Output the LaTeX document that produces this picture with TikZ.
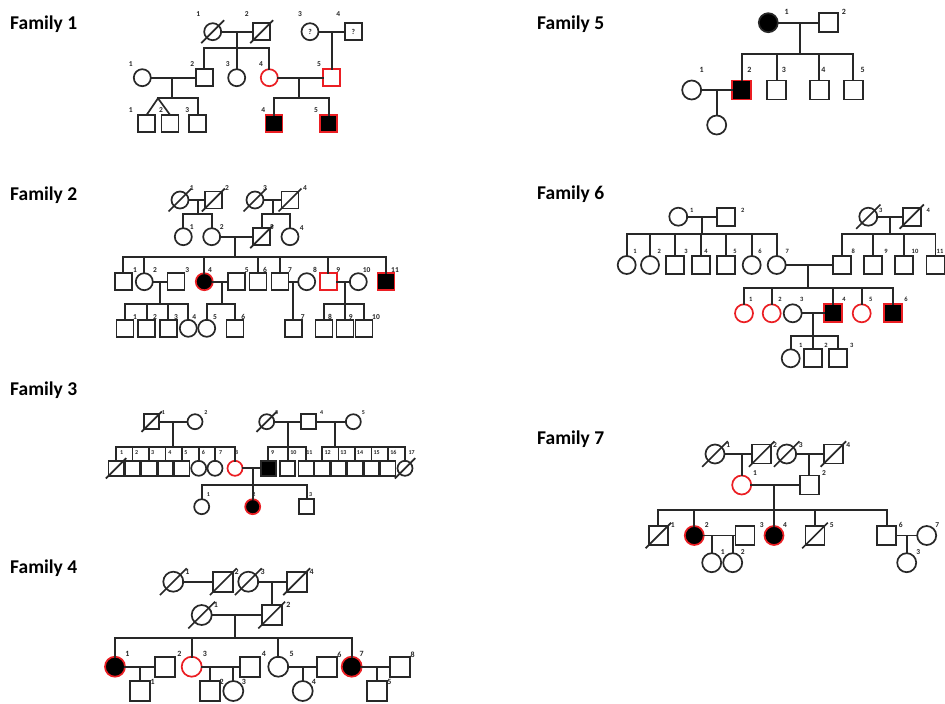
\documentclass[tikz,border=0pt]{standalone}
\usepackage{fontspec}
\setmainfont{Carlito}
\usetikzlibrary{calc}
\definecolor{carr}{RGB}{235,30,35}
\definecolor{ink}{RGB}{40,40,40}
\newcount\lbc
\def\ss{17}
\def\lfs{7}
\newcommand\lb[3]{\global\advance\lbc by 1\relax\node[lab] (lb\the\lbc) at (#1,#2) {#3};}
\newcommand\dcs[1]{\draw[ln] ([shift={(-0.64*\ss,0.64*\ss)}]#1.center) -- ([shift={(0.64*\ss,-0.64*\ss)}]#1.center);}
\newcommand\kid[2]{\draw[ln] (#2.north) -- (#2.north |- #1);}
\newcommand\sibl[3]{\draw[ln] (#2.north |- #1) -- (#3.north |- #1);}
\tikzset{
  ln/.style={draw=ink, line width=1.7pt, line cap=rect},
  sym/.style={draw=ink, line width=1.7pt, inner sep=0pt, outer sep=0pt, minimum size=\ss},
  sq/.style={sym, rectangle},
  ci/.style={sym, circle},
  car/.style={draw=carr},
  aff/.style={fill=black},
  lab/.style={text=ink, font=\fontsize{\lfs}{\lfs}\selectfont\bfseries, inner sep=0pt},
  ttl/.style={text=black, font=\fontsize{19.5}{20}\selectfont\bfseries, inner sep=0pt, anchor=base west}
}
\begin{document}
\begin{tikzpicture}[x=1pt,y=-1pt]
\fill[white] (0,0) rectangle (945,704);
\useasboundingbox (0,0) rectangle (945,704);

% ---------------- titles
\node[ttl] (t1) at (10,29) {Family 1};
\node[ttl] (t2) at (10,200) {Family 2};
\node[ttl] (t3) at (10,395) {Family 3};
\node[ttl] (t4) at (10,573) {Family 4};
\node[ttl] (t5) at (537,29) {Family 5};
\node[ttl] (t6) at (537,199) {Family 6};
\node[ttl] (t7) at (537,444) {Family 7};

% ================= Family 1
\def\ss{17}\def\lfs{7.5}
\node[ci] (f1a) at (212.7,31.7) {}; \dcs{f1a}
\node[sq] (f1b) at (261.7,31.7) {}; \dcs{f1b}
\node[ci,lab] (f1c) at (310,31.7) {?};
\node[sq,lab] (f1d) at (353.3,31.7) {?};
\node[ci] (f1e) at (142.3,77.7) {};
\node[sq] (f1f) at (204.3,77.7) {};
\node[ci] (f1g) at (236.7,77.7) {};
\node[ci,car] (f1h) at (269.3,77.7) {};
\node[sq,car] (f1i) at (331.7,77.7) {};
\node[sq] (f1j) at (146.7,123.3) {};
\node[sq] (f1k) at (170,123.3) {};
\node[sq] (f1l) at (197.7,123.3) {};
\node[sq,car,aff] (f1m) at (274,123.3) {};
\node[sq,car,aff] (f1n) at (328.7,123.3) {};
\draw[ln] (f1a) -- (f1b);
\coordinate (f1p) at (236.7,31.7); \coordinate (f1q) at (236.7,47.7);
\draw[ln] (f1p) -- (f1q);
\sibl{f1q}{f1f}{f1h} \kid{f1q}{f1f} \kid{f1q}{f1g} \kid{f1q}{f1h}
\draw[ln] (f1c) -- (f1d);
\coordinate (f1r) at (331.7,31.7); \draw[ln] (f1r) -- (f1i.north);
\draw[ln] (f1e) -- (f1f);
\coordinate (f1s) at (172.3,77.7); \coordinate (f1t) at (172.3,98.3); \draw[ln] (f1s) -- (f1t);
\coordinate (f1tw) at (158,98.3);
\draw[ln] (f1tw) -- (f1l.north |- f1tw); \kid{f1tw}{f1l}
\draw[ln] (f1tw) -- (f1j.north); \draw[ln] (f1tw) -- (f1k.north);
\draw[ln] (f1h) -- (f1i);
\coordinate (f1u) at (299.3,77.7); \coordinate (f1v) at (299.3,98.3); \draw[ln] (f1u) -- (f1v);
\sibl{f1v}{f1m}{f1n} \kid{f1v}{f1m} \kid{f1v}{f1n}
\lb{198.3}{14}{1}\lb{246.7}{14}{2}\lb{300}{14}{3}\lb{338.3}{14}{4}
\lb{130.7}{64}{1}\lb{192.3}{64}{2}\lb{227.7}{64}{3}\lb{261}{64}{4}\lb{319}{64}{5}
\lb{130.7}{110}{1}\lb{161}{110}{2}\lb{187.3}{110}{3}\lb{263.3}{110}{4}\lb{316}{110}{5}

% ================= Family 2
\def\ss{17}\def\lfs{7.5}
\node[ci] (g1) at (180,200) {}; \dcs{g1}
\node[sq] (g2) at (213.3,200) {}; \dcs{g2}
\node[ci] (g3) at (255,200) {}; \dcs{g3}
\node[sq] (g4) at (290,200) {}; \dcs{g4}
\node[ci] (h1) at (183.3,236.7) {};
\node[ci] (h2) at (211.7,236.7) {};
\node[sq] (h3) at (261.7,236.7) {}; \dcs{h3}
\node[ci] (h4) at (290,236.7) {};
\draw[ln] (g1) -- (g2);
\coordinate (f2a) at (198.3,200); \coordinate (f2b) at (198.3,214.3); \draw[ln] (f2a) -- (f2b);
\sibl{f2b}{h1}{h2} \kid{f2b}{h1} \kid{f2b}{h2}
\draw[ln] (g3) -- (g4);
\coordinate (f2c) at (273.3,200); \coordinate (f2d) at (273.3,214.3); \draw[ln] (f2c) -- (f2d);
\sibl{f2d}{h3}{h4} \kid{f2d}{h3} \kid{f2d}{h4}
\node[sq] (i1) at (123.3,281.7) {};
\node[ci] (i2) at (144.3,281.7) {};
\node[sq] (i3) at (176,281.7) {};
\node[ci,car,aff] (i4) at (204.3,281.7) {};
\node[sq] (i5) at (236.7,281.7) {};
\node[sq] (i6) at (258,281.7) {};
\node[sq] (i7) at (280,281.7) {};
\node[ci] (i8) at (306.7,281.7) {};
\node[sq,car] (i9) at (328.3,281.7) {};
\node[ci] (i10) at (358.3,281.7) {};
\node[sq,car,aff] (i11) at (386,281.7) {};
\draw[ln] (h2) -- (h3);
\coordinate (f2e) at (235,236.7); \coordinate (f2f) at (235,256.7); \draw[ln] (f2e) -- (f2f);
\sibl{f2f}{i1}{i11}
\foreach \n in {i1,i2,i4,i6,i7,i9,i11} {\kid{f2f}{\n}}
\node[sq] (j1) at (125,328.3) {};
\node[sq] (j2) at (146.7,328.3) {};
\node[sq] (j3) at (168.3,328.3) {};
\node[ci] (j4) at (188.3,328.3) {};
\node[ci] (j5) at (206.7,328.3) {};
\node[sq] (j6) at (235,328.3) {};
\node[sq] (j7) at (293.3,328.3) {};
\node[sq] (j8) at (324,328.3) {};
\node[sq] (j9) at (345,328.3) {};
\node[sq] (j10) at (364,328.3) {};
\draw[ln] (i2) -- (i3);
\coordinate (f2g) at (160,281.7); \coordinate (f2h) at (160,304); \draw[ln] (f2g) -- (f2h);
\sibl{f2h}{j1}{j4} \foreach \n in {j1,j2,j3,j4} {\kid{f2h}{\n}}
\draw[ln] (i4) -- (i5);
\coordinate (f2i) at (221.7,281.7); \coordinate (f2j) at (221.7,304); \draw[ln] (f2i) -- (f2j);
\sibl{f2j}{j5}{j6} \kid{f2j}{j5} \kid{f2j}{j6}
\draw[ln] (i7) -- (i8);
\coordinate (f2m) at (293.3,281.7); \draw[ln] (f2m) -- (j7.north);
\draw[ln] (i9) -- (i10);
\coordinate (f2k) at (345,281.7); \coordinate (f2l) at (345,304); \draw[ln] (f2k) -- (f2l);
\sibl{f2l}{j8}{j10} \foreach \n in {j8,j9,j10} {\kid{f2l}{\n}}
\lb{191.7}{188.3}{1}\lb{227}{188.3}{2}\lb{265}{188.3}{3}\lb{305}{188.3}{4}
\lb{191.7}{226.7}{1}\lb{221.7}{226.7}{2}\lb{271.7}{226.7}{3}\lb{301.7}{228.3}{4}
\lb{135}{270}{1}\lb{155}{270}{2}\lb{187.3}{270}{3}\lb{210}{270}{4}\lb{246.7}{270}{5}\lb{265}{270}{6}
\lb{290}{270}{7}\lb{315}{270}{8}\lb{338.3}{270}{9}\lb{366.7}{270}{10}\lb{395}{270}{11}
\lb{135}{316.7}{1}\lb{155}{316.7}{2}\lb{176}{316.7}{3}\lb{194.3}{316.7}{4}\lb{215}{316.7}{5}
\lb{243.3}{316.7}{6}\lb{302.7}{316.7}{7}\lb{330}{316.7}{8}\lb{350.7}{316.7}{9}\lb{376}{316.7}{10}

% ================= Family 3
\def\ss{15}\def\lfs{6}
\node[sq] (k1) at (151.7,421.7) {}; \dcs{k1}
\node[ci] (k2) at (195,421.7) {};
\node[ci] (k3) at (266.7,421.7) {}; \dcs{k3}
\node[sq] (k4) at (308.3,421.7) {};
\node[ci] (k5) at (353.3,421.7) {};
\node[sq] (l1) at (116,468.3) {}; \dcs{l1}
\node[sq] (l2) at (132.5,468.3) {};
\node[sq] (l3) at (149,468.3) {};
\node[sq] (l4) at (165.5,468.3) {};
\node[sq] (l5) at (182,468.3) {};
\node[ci] (l6) at (198.7,468.3) {};
\node[ci] (l7) at (215,468.3) {};
\node[ci,car] (l8) at (235,468.3) {};
\node[sq,aff] (l9) at (268.3,468.3) {};
\node[sq] (l10) at (287.7,468.3) {};
\node[sq] (l11) at (306,468.3) {};
\node[sq] (l12) at (322,468.3) {};
\node[sq] (l13) at (338.5,468.3) {};
\node[sq] (l14) at (355,468.3) {};
\node[sq] (l15) at (371.5,468.3) {};
\node[sq] (l16) at (388,468.3) {};
\node[ci] (l17) at (405,468.3) {}; \dcs{l17}
\draw[ln] (k1) -- (k2);
\coordinate (f3a) at (172.7,421.7); \coordinate (f3b) at (172.7,446.7); \draw[ln] (f3a) -- (f3b);
\sibl{f3b}{l1}{l8} \foreach \n in {l1,l2,l3,l4,l5,l6,l7,l8} {\kid{f3b}{\n}}
\draw[ln] (k3) -- (k4);
\coordinate (f3c) at (287.7,421.7); \coordinate (f3d) at (287.7,446.7); \draw[ln] (f3c) -- (f3d);
\sibl{f3d}{l9}{l11} \foreach \n in {l9,l10,l11} {\kid{f3d}{\n}}
\draw[ln] (k4) -- (k5);
\coordinate (f3e) at (335,421.7); \coordinate (f3f) at (335,446.7); \draw[ln] (f3e) -- (f3f);
\sibl{f3f}{l12}{l17} \foreach \n in {l12,l13,l14,l15,l16,l17} {\kid{f3f}{\n}}
\node[ci] (m1) at (201.7,506.7) {};
\node[ci,car,aff] (m2) at (252.7,506.7) {};
\node[sq] (m3) at (306.7,506.7) {};
\draw[ln] (l8) -- (l9);
\coordinate (f3g) at (252.7,468.3); \coordinate (f3h) at (252.7,485); \draw[ln] (f3g) -- (f3h);
\sibl{f3h}{m1}{m3} \foreach \n in {m1,m2,m3} {\kid{f3h}{\n}}
\lb{163.3}{412.3}{1}\lb{206}{412.3}{2}\lb{276.7}{412.3}{3}\lb{321.7}{412.3}{4}\lb{363.3}{412.3}{5}
\lb{121.7}{452.7}{1}\lb{136.7}{452.7}{2}\lb{152.7}{452.7}{3}\lb{170}{452.7}{4}\lb{186}{452.7}{5}
\lb{203.3}{452.7}{6}\lb{220.7}{452.7}{7}\lb{236.7}{452.7}{8}\lb{272.7}{452.7}{9}\lb{293.3}{452.7}{10}
\lb{309.3}{452.7}{11}\lb{327.7}{452.7}{12}\lb{343.3}{452.7}{13}\lb{360}{452.7}{14}\lb{376.7}{452.7}{15}
\lb{393.3}{452.7}{16}\lb{411.7}{452.7}{17}
\lb{208.3}{495}{1}\lb{254}{495}{2}\lb{310.7}{495}{3}

% ================= Family 4
\def\ss{20}\def\lfs{8}
\node[ci] (n1) at (173.3,581.7) {}; \dcs{n1}
\node[sq] (n2) at (223.3,581.7) {}; \dcs{n2}
\node[ci] (n3) at (248.3,581.7) {}; \dcs{n3}
\node[sq] (n4) at (296.7,581.7) {}; \dcs{n4}
\node[ci] (o1) at (201.7,615) {}; \dcs{o1}
\node[sq] (o2) at (271.7,615) {}; \dcs{o2}
\draw[ln] (n1) -- (n2);
\draw[ln] (n3) -- (n4);
\coordinate (f4a) at (271.7,581.7); \draw[ln] (f4a) -- (o2.north);
\node[ci,car,aff] (p1) at (115,666.7) {};
\node[sq] (p2) at (165,666.7) {};
\node[ci,car] (p3) at (191.7,666.7) {};
\node[sq] (p4) at (250,666.7) {};
\node[ci] (p5) at (278.3,666.7) {};
\node[sq] (p6) at (326.7,666.7) {};
\node[ci,car,aff] (p7) at (351.7,666.7) {};
\node[sq] (p8) at (400,666.7) {};
\draw[ln] (o1) -- (o2);
\coordinate (f4b) at (235,615); \coordinate (f4c) at (235,637.7); \draw[ln] (f4b) -- (f4c);
\sibl{f4c}{p1}{p7} \foreach \n in {p1,p3,p5,p7} {\kid{f4c}{\n}}
\node[sq] (q1) at (140,691) {};
\node[sq] (q2) at (210,691) {};
\node[ci] (q3) at (233.3,691) {};
\node[ci] (q4) at (302.7,691) {};
\node[sq] (q5) at (376.7,691) {};
\draw[ln] (p1) -- (p2); \coordinate (f4d) at (140,666.7); \draw[ln] (f4d) -- (q1.north);
\draw[ln] (p3) -- (p4);
\coordinate (f4e) at (210,666.7); \draw[ln] (f4e) -- (q2.north);
\coordinate (f4f) at (233.3,666.7); \draw[ln] (f4f) -- (q3.north);
\draw[ln] (p5) -- (p6); \coordinate (f4g) at (302.7,666.7); \draw[ln] (f4g) -- (q4.north);
\draw[ln] (p7) -- (p8); \coordinate (f4h) at (376.7,666.7); \draw[ln] (f4h) -- (q5.north);
\lb{187.3}{571.7}{1}\lb{236.7}{571.7}{2}\lb{262.7}{571.7}{3}\lb{311.7}{571.7}{4}
\lb{216}{605}{1}\lb{288.3}{605}{2}
\lb{127.3}{654.3}{1}\lb{179.3}{654.3}{2}\lb{205}{654.3}{3}\lb{264}{654.3}{4}\lb{291.7}{654.3}{5}
\lb{339.3}{654.3}{6}\lb{361.7}{654.3}{7}\lb{412.7}{654.3}{8}
\lb{152.7}{681.7}{1}\lb{221.7}{681.7}{2}\lb{244}{681.7}{3}\lb{314}{681.7}{4}\lb{389.3}{681.7}{5}

% ================= Family 5
\def\ss{19}\def\lfs{8}
\node[ci,aff] (r1) at (768.3,22.7) {};
\node[sq] (r2) at (828.3,22.7) {};
\node[ci] (s1) at (691.7,90) {};
\node[sq,car,aff] (s2) at (741.7,90) {};
\node[sq] (s3) at (776.7,90) {};
\node[sq] (s4) at (819.3,90) {};
\node[sq] (s5) at (853.3,90) {};
\node[ci] (t1n) at (716.7,125) {};
\draw[ln] (r1) -- (r2);
\coordinate (f5a) at (800,22.7); \coordinate (f5b) at (800,54); \draw[ln] (f5a) -- (f5b);
\sibl{f5b}{s2}{s5} \foreach \n in {s2,s3,s4,s5} {\kid{f5b}{\n}}
\draw[ln] (s1) -- (s2);
\coordinate (f5c) at (716.7,90); \draw[ln] (f5c) -- (t1n.north);
\lb{786.7}{11.7}{1}\lb{844}{11.7}{2}
\lb{701.7}{70}{1}\lb{749.3}{70}{2}\lb{784}{70}{3}\lb{823.3}{70}{4}\lb{862.7}{70}{5}

% ================= Family 6
\def\ss{18}\def\lfs{6.5}
\node[ci] (u1) at (678.3,216.7) {};
\node[sq] (u2) at (726,216.7) {};
\node[ci] (u3) at (868.3,216.7) {}; \dcs{u3}
\node[sq] (u4) at (911.7,216.7) {}; \dcs{u4}
\node[ci] (v1) at (626.7,265) {};
\node[ci] (v2) at (650,265) {};
\node[sq] (v3) at (675,265) {};
\node[sq] (v4) at (701,265) {};
\node[sq] (v5) at (726,265) {};
\node[ci] (v6) at (751.7,265) {};
\node[ci] (v7) at (776.7,265) {};
\node[sq] (v8) at (841.7,265) {};
\node[sq] (v9) at (873.3,265) {};
\node[sq] (v10) at (904,265) {};
\node[sq] (v11) at (935.5,265) {};
\draw[ln] (u1) -- (u2);
\coordinate (f6a) at (701.7,216.7); \coordinate (f6b) at (701.7,234.3); \draw[ln] (f6a) -- (f6b);
\sibl{f6b}{v1}{v7} \foreach \n in {v1,v2,v3,v4,v5,v6,v7} {\kid{f6b}{\n}}
\draw[ln] (u3) -- (u4);
\coordinate (f6c) at (890,216.7); \coordinate (f6d) at (890,234.3); \draw[ln] (f6c) -- (f6d);
\sibl{f6d}{v8}{v11} \foreach \n in {v8,v9,v10,v11} {\kid{f6d}{\n}}
\node[ci,car] (w1) at (744,313.3) {};
\node[ci,car] (w2) at (771.7,313.3) {};
\node[ci] (w3) at (792.7,313.3) {};
\node[sq,car,aff] (w4) at (833.3,313.3) {};
\node[ci,car] (w5) at (861.7,313.3) {};
\node[sq,car,aff] (w6) at (892.7,313.3) {};
\draw[ln] (v7) -- (v8);
\coordinate (f6e) at (808.3,265); \coordinate (f6f) at (808.3,287.7); \draw[ln] (f6e) -- (f6f);
\sibl{f6f}{w1}{w6} \foreach \n in {w1,w2,w4,w5,w6} {\kid{f6f}{\n}}
\node[ci] (x1) at (790.7,358.3) {};
\node[sq] (x2) at (813.3,358.3) {};
\node[sq] (x3) at (838.3,358.3) {};
\draw[ln] (w3) -- (w4);
\coordinate (f6g) at (813.3,313.3); \coordinate (f6h) at (813.3,335.7); \draw[ln] (f6g) -- (f6h);
\sibl{f6h}{x1}{x3} \foreach \n in {x1,x2,x3} {\kid{f6h}{\n}}
\lb{691.7}{210}{1}\lb{742.7}{210}{2}\lb{880.7}{210}{3}\lb{928.3}{210}{4}
\lb{635}{251.7}{1}\lb{659.3}{251.7}{2}\lb{686}{251.7}{3}\lb{706}{251.7}{4}\lb{735}{251.7}{5}
\lb{760}{251.7}{6}\lb{787.3}{251.7}{7}\lb{853.3}{251.7}{8}\lb{886}{251.7}{9}\lb{915}{251.7}{10}\lb{940}{251.7}{11}
\lb{750.7}{299}{1}\lb{780}{299}{2}\lb{801.7}{299}{3}\lb{844}{299}{4}\lb{870.7}{299}{5}\lb{906}{299}{6}
\lb{800.7}{345}{1}\lb{826}{345}{2}\lb{851.7}{345}{3}

% ================= Family 7
\def\ss{19}\def\lfs{7.5}
\node[ci] (y1) at (715,454) {}; \dcs{y1}
\node[sq] (y2) at (761.7,454) {}; \dcs{y2}
\node[ci] (y3) at (786.7,454) {}; \dcs{y3}
\node[sq] (y4) at (833.3,454) {}; \dcs{y4}
\node[ci,car] (z1) at (741.7,485) {};
\node[sq] (z2) at (809.3,485) {};
\draw[ln] (y1) -- (y2);
\coordinate (f7a) at (741.7,454); \draw[ln] (f7a) -- (z1.north);
\draw[ln] (y3) -- (y4);
\coordinate (f7b) at (809.3,454); \draw[ln] (f7b) -- (z2.north);
\node[sq] (aa1) at (658.3,535.5) {}; \dcs{aa1}
\node[ci,car,aff] (aa2) at (694.3,535.5) {};
\node[sq] (aa3) at (745,535.5) {};
\node[ci,car,aff] (aa4) at (774,535.5) {};
\node[sq] (aa5) at (815,535.5) {}; \dcs{aa5}
\node[sq] (aa6) at (886.7,535.5) {};
\node[ci] (aa7) at (926.7,535.5) {};
\draw[ln] (z1) -- (z2);
\coordinate (f7c) at (774,485); \coordinate (f7d) at (774,510); \draw[ln] (f7c) -- (f7d);
\sibl{f7d}{aa1}{aa6} \foreach \n in {aa1,aa2,aa4,aa5,aa6} {\kid{f7d}{\n}}
\node[ci] (bb1) at (711.7,562.7) {};
\node[ci] (bb2) at (732.7,562.7) {};
\node[ci] (bb3) at (906.7,562.7) {};
\draw[ln] (aa2) -- (aa3);
\coordinate (f7e) at (711.7,535.5); \draw[ln] (f7e) -- (bb1.north);
\coordinate (f7f) at (732.7,535.5); \draw[ln] (f7f) -- (bb2.north);
\draw[ln] (aa6) -- (aa7);
\coordinate (f7g) at (906.7,535.5); \draw[ln] (f7g) -- (bb3.north);
\lb{728.3}{445}{1}\lb{775}{445}{2}\lb{800.7}{445}{3}\lb{848.3}{445}{4}
\lb{755}{473.3}{1}\lb{824}{473.3}{2}
\lb{672.7}{525}{1}\lb{706.7}{525}{2}\lb{761.7}{525}{3}\lb{785}{525}{4}\lb{831.7}{525}{5}\lb{900.7}{525}{6}\lb{937.3}{525}{7}
\lb{722.7}{551.7}{1}\lb{742.7}{551.7}{2}\lb{918.3}{551.7}{3}
\end{tikzpicture}
\end{document}
